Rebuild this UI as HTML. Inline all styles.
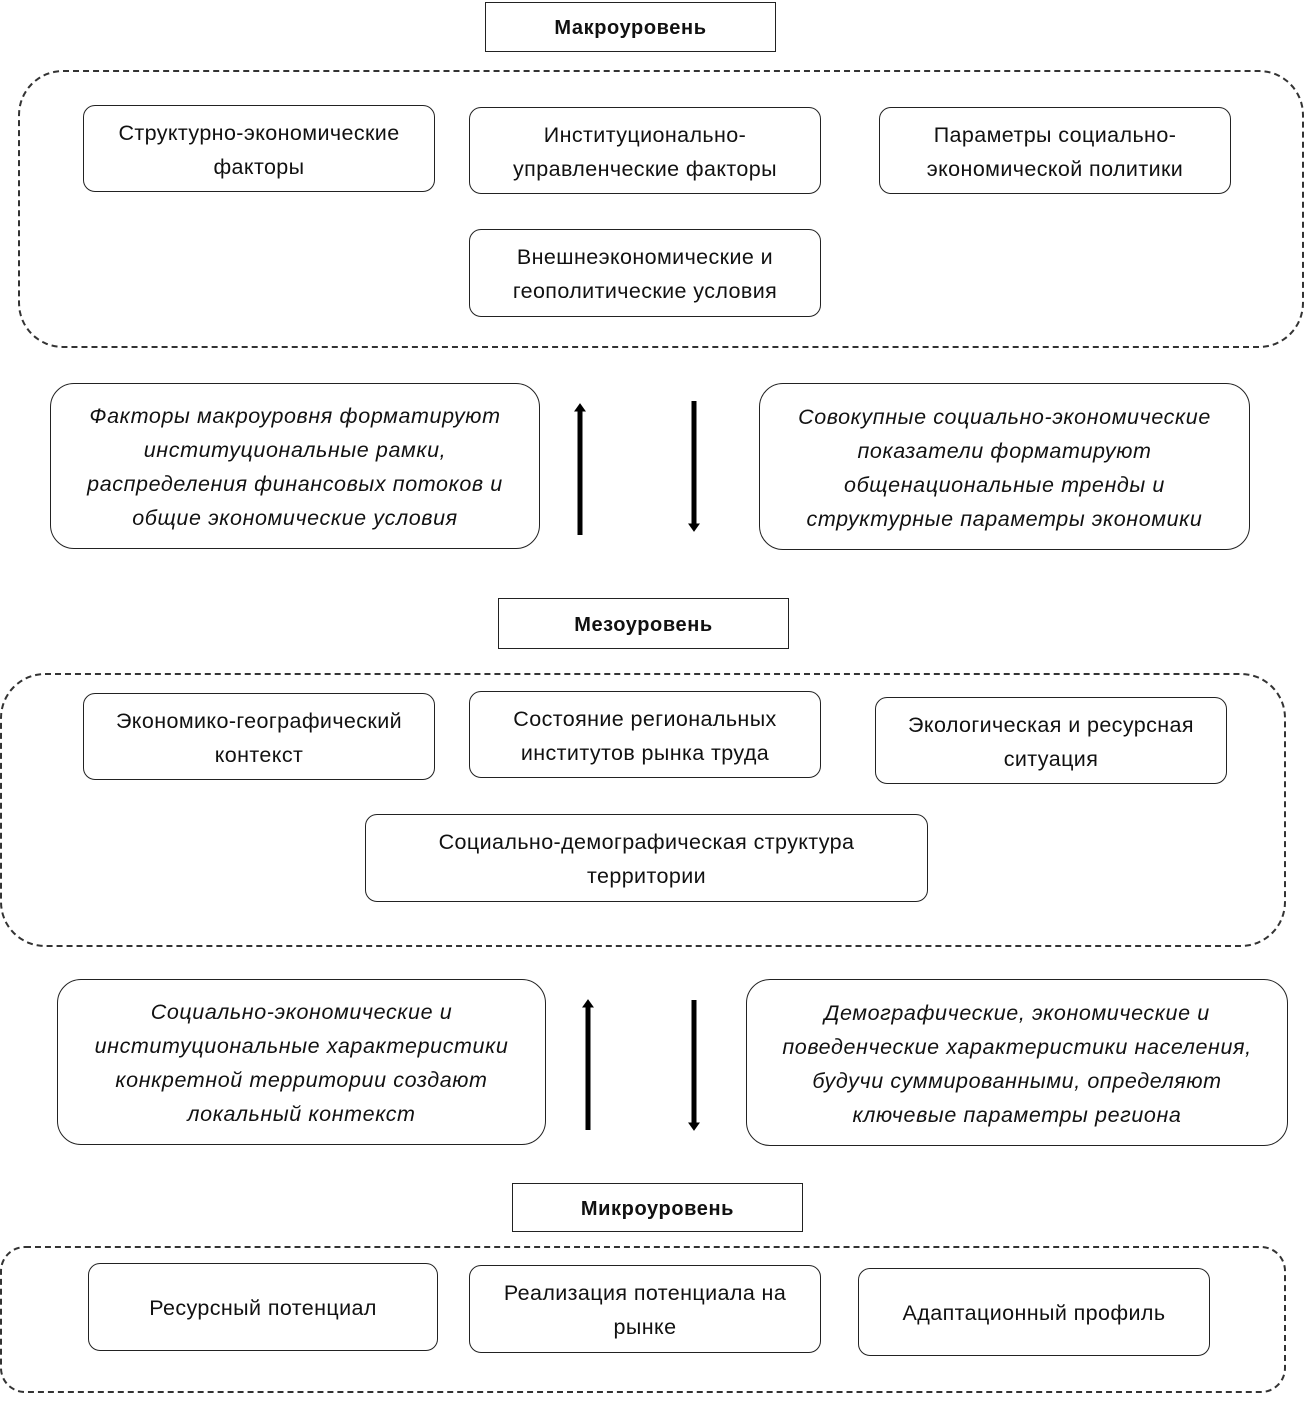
<!DOCTYPE html>
<html><head><meta charset="utf-8"><style>
body{margin:0;width:1307px;height:1401px;background:#fff;position:relative;font-family:"Liberation Sans",sans-serif;color:#111;overflow:hidden}
.b{position:absolute;box-sizing:border-box;border:1.8px solid #222;border-radius:12px;display:flex;align-items:center;justify-content:center;text-align:center;font-size:21.5px;line-height:34px;letter-spacing:0.4px;padding-top:2px}
.t{border-radius:0;font-weight:bold;font-size:20px;letter-spacing:0.6px}
.i{font-style:italic;border-radius:24px;font-size:21.5px;line-height:34px;letter-spacing:0.6px}
.d{position:absolute;box-sizing:border-box;border:2px dashed #333;border-radius:45px}
</style></head><body>
<div class="b t" style="left:485px;top:2px;width:291px;height:50px">Макроуровень</div>
<div class="d" style="left:18px;top:70px;width:1286px;height:278px"></div>
<div class="b" style="left:83px;top:105px;width:352px;height:87px">Структурно-экономические<br>факторы</div>
<div class="b" style="left:469px;top:107px;width:352px;height:87px">Институционально-<br>управленческие факторы</div>
<div class="b" style="left:879px;top:107px;width:352px;height:87px">Параметры социально-<br>экономической политики</div>
<div class="b" style="left:469px;top:229px;width:352px;height:88px">Внешнеэкономические и<br>геополитические условия</div>
<div class="b i" style="left:50px;top:383px;width:490px;height:166px">Факторы макроуровня форматируют<br>институциональные рамки,<br>распределения финансовых потоков и<br>общие экономические условия</div>
<div class="b i" style="left:759px;top:383px;width:491px;height:167px">Совокупные социально-экономические<br>показатели форматируют<br>общенациональные тренды и<br>структурные параметры экономики</div>
<svg style="position:absolute;left:0;top:0" width="1307" height="1401">
<g stroke="#000" stroke-width="5" fill="#000">
<line x1="580" y1="410" x2="580" y2="535"/><polygon points="575,411 585,411 580,404" stroke-width="1"/>
<line x1="694" y1="401" x2="694" y2="525"/><polygon points="689,524 699,524 694,531" stroke-width="1"/>
<line x1="588" y1="1006" x2="588" y2="1130"/><polygon points="583,1007 593,1007 588,1000" stroke-width="1"/>
<line x1="694" y1="1000" x2="694" y2="1124"/><polygon points="689,1123 699,1123 694,1130" stroke-width="1"/>
</g></svg>
<div class="b t" style="left:498px;top:598px;width:291px;height:51px">Мезоуровень</div>
<div class="d" style="left:0px;top:673px;width:1286px;height:274px"></div>
<div class="b" style="left:83px;top:693px;width:352px;height:87px">Экономико-географический<br>контекст</div>
<div class="b" style="left:469px;top:691px;width:352px;height:87px">Состояние региональных<br>институтов рынка труда</div>
<div class="b" style="left:875px;top:697px;width:352px;height:87px">Экологическая и ресурсная<br>ситуация</div>
<div class="b" style="left:365px;top:814px;width:563px;height:88px">Социально-демографическая структура<br>территории</div>
<div class="b i" style="left:57px;top:979px;width:489px;height:166px">Социально-экономические и<br>институциональные характеристики<br>конкретной территории создают<br>локальный контекст</div>
<div class="b i" style="left:746px;top:979px;width:542px;height:167px">Демографические, экономические и<br>поведенческие характеристики населения,<br>будучи суммированными, определяют<br>ключевые параметры региона</div>
<div class="b t" style="left:512px;top:1183px;width:291px;height:49px">Микроуровень</div>
<div class="d" style="left:0px;top:1246px;width:1286px;height:147px;border-radius:25px"></div>
<div class="b" style="left:88px;top:1263px;width:350px;height:88px">Ресурсный потенциал</div>
<div class="b" style="left:469px;top:1265px;width:352px;height:88px">Реализация потенциала на<br>рынке</div>
<div class="b" style="left:858px;top:1268px;width:352px;height:88px">Адаптационный профиль</div>
</body></html>
